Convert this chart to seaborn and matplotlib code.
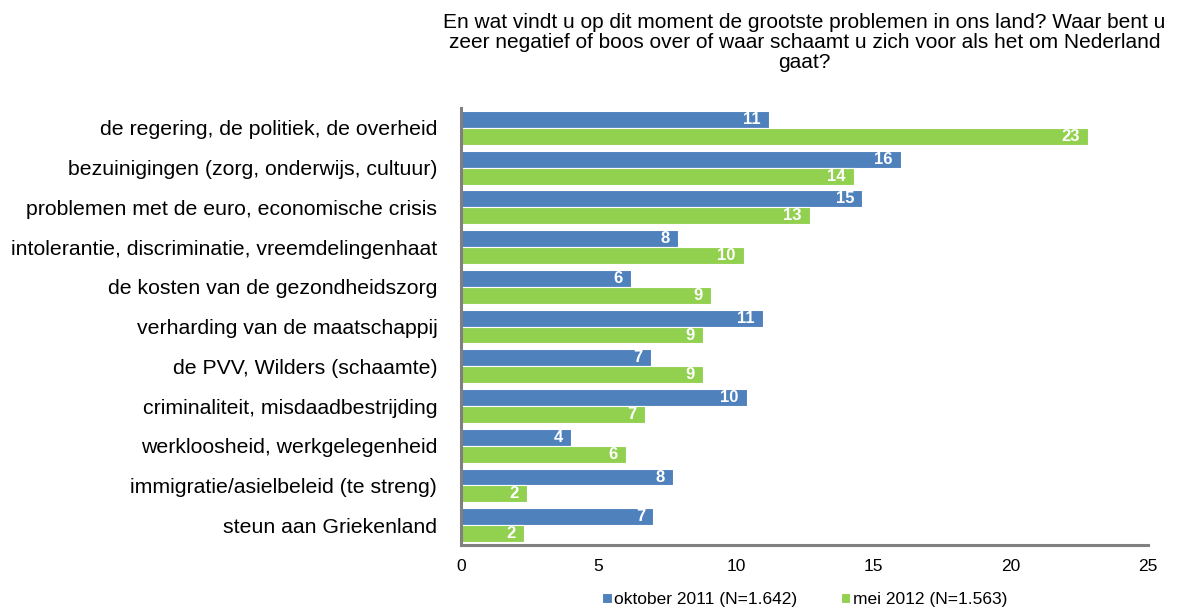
import matplotlib
matplotlib.use("Agg")
import matplotlib.pyplot as plt
import seaborn as sns
import pandas as pd
import numpy as np

# Data
categorieen = [
    "de regering, de politiek, de overheid",
    "bezuinigingen (zorg, onderwijs, cultuur)",
    "problemen met de euro, economische crisis",
    "intolerantie, discriminatie, vreemdelingenhaat",
    "de kosten van de gezondheidszorg",
    "verharding van de maatschappij",
    "de PVV, Wilders (schaamte)",
    "criminaliteit, misdaadbestrijding",
    "werkloosheid, werkgelegenheid",
    "immigratie/asielbeleid (te streng)",
    "steun aan Griekenland",
]
oktober_2011 = [11.2, 16.0, 14.6, 7.9, 6.2, 11.0, 6.9, 10.4, 4.0, 7.7, 7.0]
mei_2012 = [22.8, 14.3, 12.7, 10.3, 9.1, 8.8, 8.8, 6.7, 6.0, 2.4, 2.3]
reeksen = ["oktober 2011 (N=1.642)", "mei 2012 (N=1.563)"]
kleuren = ["#4F81BD", "#92D050"]

titel = ("En wat vindt u op dit moment de grootste problemen in ons land? Waar bent u\n"
         "zeer negatief of boos over of waar schaamt u zich voor als het om Nederland\n"
         "gaat?")

df = pd.DataFrame({
    "categorie": categorieen * 2,
    "waarde": oktober_2011 + mei_2012,
    "reeks": [reeksen[0]] * len(categorieen) + [reeksen[1]] * len(categorieen),
})

sns.set_theme(style="white")
plt.rcParams["font.family"] = ["Liberation Sans", "DejaVu Sans"]
plt.rcParams["text.color"] = "black"
plt.rcParams["xtick.color"] = "black"
plt.rcParams["ytick.color"] = "black"

fig = plt.figure(figsize=(11.85, 6.07), dpi=100)
ax = fig.add_axes([0.389, 0.102, 0.58, 0.72])

sns.barplot(data=df, x="waarde", y="categorie", hue="reeks", orient="h",
            palette=kleuren, saturation=1, width=0.85, edgecolor="white",
            linewidth=0.8, ax=ax)

# waardelabels binnen de balk
for cont in ax.containers:
    for p in cont.patches:
        w = p.get_width()
        ax.annotate(f"{round(w):d}", (w, p.get_y() + p.get_height() / 2),
                    xytext=(-6, 0), textcoords="offset points",
                    ha="right", va="center", color="white",
                    fontweight="bold", fontsize=12)

ax.set_xlim(0, 25)
ax.set_xticks(np.arange(0, 26, 5))
ax.set_ylim(len(categorieen) - 0.5, -0.5)
ax.set_xlabel("")
ax.set_ylabel("")
ax.set_title(titel, fontsize=15, pad=29, linespacing=1.05, color="black")

for side in ["top", "right"]:
    ax.spines[side].set_visible(False)
for side in ["left", "bottom"]:
    ax.spines[side].set_color("#808080")
    ax.spines[side].set_linewidth(2.2)

ax.set_yticks(np.arange(-0.5, len(categorieen), 1), minor=True)
ax.tick_params(axis="y", which="major", length=0, pad=17, labelsize=15.3)
ax.tick_params(axis="y", which="minor", length=4, width=2, color="#808080",
               direction="out")
ax.tick_params(axis="x", length=4, width=2, color="#808080", direction="out",
               labelsize=12.5, pad=6)

leg = ax.legend(loc="center", bbox_to_anchor=(0.5, -0.125), ncol=2,
                frameon=False, fontsize=12.5, handlelength=0.55,
                handleheight=0.55, handletextpad=0.15, columnspacing=2.5)

fig.savefig("out.png", dpi=100)
